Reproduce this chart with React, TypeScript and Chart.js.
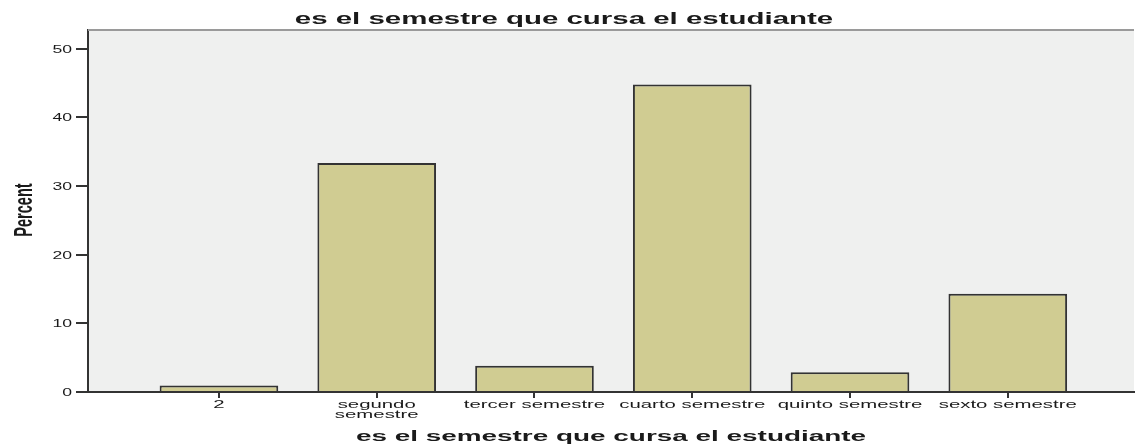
import React, { useEffect, useRef } from "react";
import { Chart, registerables } from "chart.js";

Chart.register(...registerables);

// ---- data ----
const categories = [
  "2",
  "segundo semestre",
  "tercer semestre",
  "cuarto semestre",
  "quinto semestre",
  "sexto semestre",
];
const tickLabelLines = [
  ["2"],
  ["segundo", "semestre"],
  ["tercer semestre"],
  ["cuarto semestre"],
  ["quinto semestre"],
  ["sexto semestre"],
];
const percentValues = [0.95, 33.33, 3.81, 44.76, 2.86, 14.29];
const yTickValues = [0, 10, 20, 30, 40, 50];
const chartTitle = "es el semestre que cursa el estudiante";
const xAxisTitle = "es el semestre que cursa el estudiante";
const yAxisTitle = "Percent";

// ---- styles ----
const TEXT_COLOR = "#1a1a1a";
const BAR_FILL = "#d0cc92";
const BAR_BORDER = "#333333";
const PLOT_BG = "#eff0ef";
const AXIS_COLOR = "#333333";

function stretchText(
  ctx: CanvasRenderingContext2D,
  text: string,
  x: number,
  y: number,
  font: string,
  sx: number,
  align: CanvasTextAlign,
  baseline: CanvasTextBaseline,
  angle = 0
) {
  ctx.save();
  ctx.translate(x, y);
  if (angle) ctx.rotate(angle);
  ctx.scale(sx, 1);
  ctx.font = font;
  ctx.textAlign = align;
  ctx.textBaseline = baseline;
  ctx.fillStyle = TEXT_COLOR;
  ctx.fillText(text, 0, 0);
  ctx.restore();
}

const spssPlugin = {
  id: "spssLook",
  beforeDraw(chart: any) {
    const { ctx, chartArea: a } = chart;
    ctx.save();
    ctx.fillStyle = PLOT_BG;
    ctx.fillRect(a.left, a.top, a.right - a.left, a.bottom - a.top);
    ctx.restore();
  },
  afterDraw(chart: any) {
    const { ctx, chartArea: a, width } = chart;
    const xs = chart.scales.x;
    const ys = chart.scales.y;
    // top frame line
    ctx.save();
    ctx.strokeStyle = "#9a9a9a";
    ctx.lineWidth = 2;
    ctx.beginPath();
    ctx.moveTo(a.left, a.top);
    ctx.lineTo(a.right, a.top);
    ctx.stroke();
    ctx.restore();

    const family = "'Liberation Sans', Arial, sans-serif";
    // chart title
    stretchText(ctx, chartTitle, width / 2 - 4, 24, `bold 16px ${family}`, 1.84, "center", "alphabetic");
    // x axis title
    stretchText(ctx, xAxisTitle, (a.left + a.right) / 2, 441, `bold 15px ${family}`, 1.86, "center", "alphabetic");
    // y axis title
    stretchText(ctx, yAxisTitle, 32, 210, `bold 26px ${family}`, 0.56, "center", "alphabetic", -Math.PI / 2);

    // x tick labels
    tickLabelLines.forEach((lines, i) => {
      const px = xs.getPixelForValue(i);
      lines.forEach((ln, j) => {
        stretchText(ctx, ln, px, a.bottom + 16 + j * 9.5, `11px ${family}`, 1.85, "center", "alphabetic");
      });
    });
    // y tick labels
    yTickValues.forEach((v) => {
      const py = ys.getPixelForValue(v);
      stretchText(ctx, String(v), 72, py + 1, `11px ${family}`, 1.6, "right", "middle");
    });
  },
};

export default function App() {
  const canvasRef = useRef<HTMLCanvasElement | null>(null);

  useEffect(() => {
    document.body.style.margin = "0";
    const canvas = canvasRef.current;
    if (!canvas) return;
    const chart = new Chart(canvas, {
      type: "bar",
      data: {
        datasets: [
          {
            label: "Percent",
            data: percentValues.map((v, i) => ({ x: i, y: v })),
            backgroundColor: BAR_FILL,
            borderColor: BAR_BORDER,
            borderWidth: 2,
            borderSkipped: "bottom",
            categoryPercentage: 1,
            barPercentage: 0.752,
          },
        ],
      },
      options: {
        animation: false,
        responsive: true,
        maintainAspectRatio: false,
        layout: { padding: { top: 30, right: 2, left: 0, bottom: 0 } },
        plugins: {
          legend: { display: false },
          title: { display: false },
          tooltip: { enabled: false },
        },
        scales: {
          x: {
            type: "linear",
            offset: false,
            min: -0.83,
            max: 5.8,
            afterBuildTicks: (s: any) => {
              s.ticks = categories.map((_, i) => ({ value: i }));
            },
            afterFit: (s: any) => {
              s.height = 54;
            },
            ticks: { display: false },
            grid: {
              display: true,
              offset: false,
              drawOnChartArea: false,
              drawTicks: true,
              tickLength: 6,
              color: AXIS_COLOR,
              lineWidth: 2,
            },
            border: { display: true, color: AXIS_COLOR, width: 2 },
          },
          y: {
            type: "linear",
            min: 0,
            max: 52.7,
            afterBuildTicks: (s: any) => {
              s.ticks = yTickValues.map((v) => ({ value: v }));
            },
            afterFit: (s: any) => {
              s.width = 88;
            },
            ticks: { display: false },
            grid: {
              display: true,
              drawOnChartArea: false,
              drawTicks: true,
              tickLength: 12,
              color: AXIS_COLOR,
              lineWidth: 2,
            },
            border: { display: true, color: AXIS_COLOR, width: 2 },
          },
        },
      },
      plugins: [spssPlugin],
    });
    return () => chart.destroy();
  }, []);

  return (
    <div style={{ position: "relative", width: 1136, height: 446, background: "#ffffff" }}>
      <canvas ref={canvasRef} style={{ display: "block" }} />
    </div>
  );
}
